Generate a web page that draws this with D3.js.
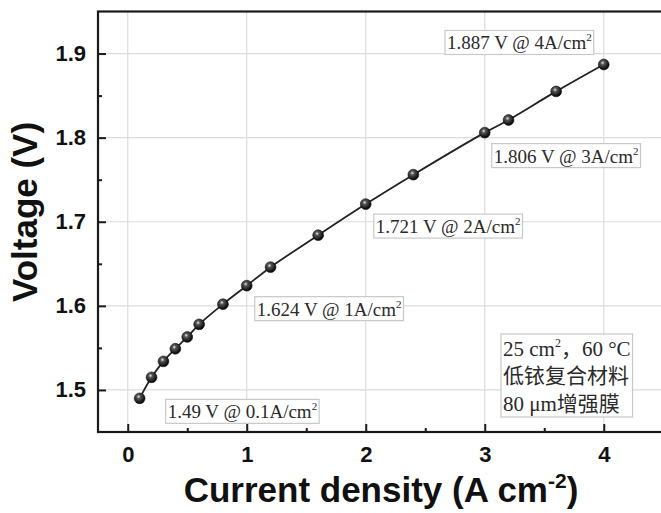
<!DOCTYPE html>
<html><head><meta charset="utf-8">
<script src="https://cdn.jsdelivr.net/npm/d3@7"></script>
<style>html,body{margin:0;padding:0;background:#fff;overflow:hidden}</style>
</head><body>
<svg id="chart" width="661" height="513"></svg>
<script>
// ---- data ----
const currentDensity = [0.1,0.2,0.3,0.4,0.5,0.6,0.8,1.0,1.2,1.6,2.0,2.4,3.0,3.2,3.6,4.0];
const voltage = [1.490,1.515,1.534,1.549,1.563,1.578,1.602,1.624,1.646,1.684,1.721,1.756,1.806,1.821,1.855,1.887];
const xTicks = [0,1,2,3,4];
const yTicks = [1.5,1.6,1.7,1.8,1.9];
const annoX = [0.1,1,2,3,4];
const annoMain = ["1.49 V @ 0.1A/cm","1.624 V @ 1A/cm","1.721 V @ 2A/cm","1.806 V @ 3A/cm","1.887 V @ 4A/cm"];
const infoLines = [["25 cm","2","，60 °C"],["低铱复合材料","",""],["80 μm增强膜","",""]];

// ---- layout ----
const svg = d3.select("#chart");
const x = d3.scaleLinear().domain([-0.25,4.75]).range([98,693]);
const y = d3.scaleLinear().domain([1.45,1.95]).range([432,11.5]);
const axisColor = "#1a1a1a";
const serif = "'Liberation Serif','Times New Roman','Noto Sans CJK SC',serif";
const sans = "'Liberation Sans',Arial,sans-serif";

// gridlines
svg.append("g").selectAll("line.gx").data(xTicks).join("line")
  .attr("x1",d=>x(d)).attr("x2",d=>x(d)).attr("y1",y(1.45)).attr("y2",y(1.95))
  .attr("stroke","#dcdcdc").attr("stroke-width",1.2);
svg.append("g").selectAll("line.gy").data(yTicks).join("line")
  .attr("x1",x(-0.25)).attr("x2",x(4.75)).attr("y1",d=>y(d)).attr("y2",d=>y(d))
  .attr("stroke","#dcdcdc").attr("stroke-width",1.2);

// axes (inward ticks)
const xAxis = d3.axisBottom(x).tickValues(xTicks).tickSize(-8).tickPadding(14).tickFormat(d3.format("d"));
const xMinor = d3.axisBottom(x).tickValues([0.5,1.5,2.5,3.5,4.5]).tickSize(-4).tickFormat("");
const yAxis = d3.axisLeft(y).tickValues(yTicks).tickSize(-8).tickPadding(12).tickFormat(d3.format(".1f"));
const yMinor = d3.axisLeft(y).tickValues([1.55,1.65,1.75,1.85]).tickSize(-4).tickFormat("");

function styleAxis(g){
  g.select(".domain").remove();
  g.selectAll("line").attr("stroke",axisColor).attr("stroke-width",2);
  g.selectAll("text").attr("fill","#111").style("font-family",sans).style("font-weight","bold").style("font-size","22px");
}
svg.append("g").attr("transform",`translate(0,${y(1.45)})`).call(xAxis).call(styleAxis);
svg.append("g").attr("transform",`translate(0,${y(1.45)})`).call(xMinor).call(styleAxis);
svg.append("g").attr("transform",`translate(${x(-0.25)},0)`).call(yAxis).call(styleAxis);
svg.append("g").attr("transform",`translate(${x(-0.25)},0)`).call(yMinor).call(styleAxis);

// frame
svg.append("rect").attr("x",x(-0.25)).attr("y",y(1.95)).attr("width",x(4.75)-x(-0.25)).attr("height",y(1.45)-y(1.95))
  .attr("fill","none").attr("stroke",axisColor).attr("stroke-width",2.2);

// line
const pts = currentDensity.map((c,i)=>[c,voltage[i]]);
svg.append("path").datum(pts)
  .attr("d",d3.line().x(d=>x(d[0])).y(d=>y(d[1])).curve(d3.curveCatmullRom))
  .attr("fill","none").attr("stroke","#222").attr("stroke-width",1.8);

// markers
const defs = svg.append("defs");
const grad = defs.append("radialGradient").attr("id","ball").attr("cx","40%").attr("cy","35%").attr("r","60%");
grad.append("stop").attr("offset","0%").attr("stop-color","#e8e8e8");
grad.append("stop").attr("offset","30%").attr("stop-color","#555");
grad.append("stop").attr("offset","100%").attr("stop-color","#080808");
svg.append("g").selectAll("circle").data(pts).join("circle")
  .attr("cx",d=>x(d[0])).attr("cy",d=>y(d[1])).attr("r",5.4)
  .attr("fill","url(#ball)").attr("stroke","#111").attr("stroke-width",0.6);

// annotations
const annoOffset = [[28,20,"start"],[10,30,"start"],[10,29,"start"],[9,30,"start"],[-12,-15,"end"]];
annoX.forEach((ax,i)=>{
  const vi = currentDensity.indexOf(ax);
  const px = x(ax), py = y(voltage[vi]);
  const [dx,dy,anchor] = annoOffset[i];
  const g = svg.append("g");
  const t = g.append("text").attr("x",px+dx).attr("y",py+dy).attr("text-anchor",anchor)
    .style("font-family",serif).style("font-size","19px").attr("fill","#2a2a2a");
  t.append("tspan").text(annoMain[i]);
  t.append("tspan").text("2").attr("dy",-8).style("font-size","11px");
  const bb = t.node().getBBox();
  g.insert("rect","text").attr("x",bb.x-2).attr("y",py+dy-19).attr("width",bb.width+4).attr("height",24)
    .attr("fill","#fff").attr("stroke","#c8c8c8").attr("stroke-width",1.2);
});

// info box
const info = svg.append("g");
infoLines.forEach((ln,i)=>{
  const t = info.append("text").attr("x",503).attr("y",356+i*27.3)
    .style("font-family",serif).style("font-size","21px").attr("fill","#2a2a2a");
  t.append("tspan").text(ln[0]);
  if(ln[1]){ t.append("tspan").text(ln[1]).attr("dy",-9).style("font-size","12px");
             t.append("tspan").text(ln[2]).attr("dy",9); }
});
const ib = info.node().getBBox();
info.insert("rect",":first-child").attr("x",ib.x-2).attr("y",334).attr("width",ib.width+4).attr("height",83)
  .attr("fill","#fff").attr("stroke","#c8c8c8").attr("stroke-width",1.2);

// axis titles
const xt = svg.append("text").attr("x",381).attr("y",502).attr("text-anchor","middle")
  .style("font-family",sans).style("font-weight","bold").style("font-size","35px").attr("fill","#111");
xt.append("tspan").text("Current density (A cm");
xt.append("tspan").text("-2").attr("dy",-14).style("font-size","21px");
xt.append("tspan").text(")").attr("dy",14);
svg.append("text").attr("transform","translate(37,212) rotate(-90)").attr("text-anchor","middle")
  .style("font-family",sans).style("font-weight","bold").style("font-size","35px").attr("fill","#111")
  .text("Voltage (V)");
</script>
</body></html>
